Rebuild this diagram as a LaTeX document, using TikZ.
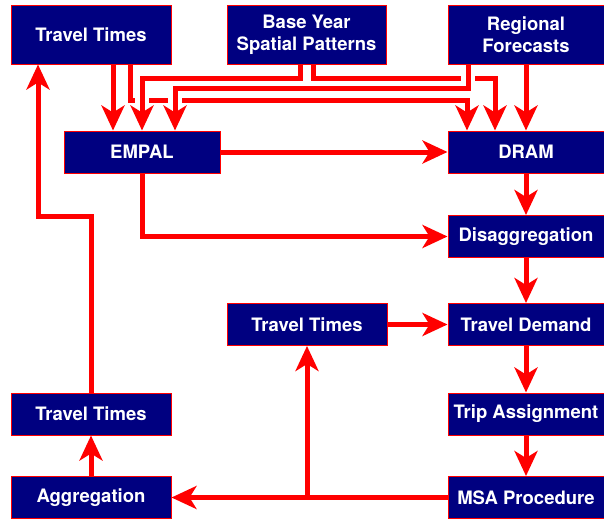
\documentclass[tikz,border=0pt]{standalone}
\usepackage{fontspec}
\setmainfont{TeX Gyre Heros}
\usetikzlibrary{arrows.meta,positioning}
\definecolor{boxblue}{RGB}{0,0,128}

\begin{document}
\begin{tikzpicture}[
        x=1pt, y=-1pt,
        every node/.style={draw=red, line width=1pt, fill=boxblue, text=white, align=center,
          inner sep=0pt, minimum width=156pt, minimum height=42pt,
          font=\bfseries\fontsize{18.5}{22}\selectfont},
        tall/.style={minimum height=58pt},
        conn/.style={draw=red, line width=5pt, -{Stealth[length=25pt,width=23pt,inset=7pt]}},
        halo/.style={preaction={draw=white, line width=14pt, -, shorten >=26pt, shorten <=2pt}}
    ]
  \useasboundingbox (0,0) rectangle (604,519);

  % Nodes
  \node[tall, minimum width=160pt] (ttop) at (91,35) {Travel Times};
  \node[tall, minimum width=159pt] (base) at (306.5,35) {Base Year\\Spatial Patterns};
  \node[tall] (reg) at (526,35) {Regional\\Forecasts};
  \node (empal) at (142,152) {EMPAL};
  \node (dram) at (526,152) {DRAM};
  \node (disagg) at (526,236.5) {Disaggregation};
  \node[minimum width=160pt] (ttmid) at (307,324.5) {Travel Times};
  \node (demand) at (526,324.5) {Travel Demand};
  \node[minimum width=160pt] (ttlow) at (91,414) {Travel Times};
  \node (trip) at (526,414) {Trip Assignment};
  \node[minimum width=160pt] (aggr) at (91,497.5) {Aggregation};
  \node (msa) at (526,497.5) {MSA Procedure};

  % Levels of the top wiring
  \coordinate (lvlA) at (0,78);
  \coordinate (lvlB) at (0,88);
  \coordinate (lvlC) at (0,100);
  \coordinate (lvlD) at (0,216);

  % Entry points on EMPAL and DRAM
  \coordinate (empalA) at ([xshift=-29pt]empal.north);
  \coordinate (empalC) at ([xshift=33pt]empal.north);
  \coordinate (dramA) at ([xshift=-59pt]dram.north);
  \coordinate (dramB) at ([xshift=-31pt]dram.north);

  % Top wiring
  \draw[conn] ([xshift=22pt]ttop.south) -- (empalA);
  \draw[conn] ([xshift=39pt]ttop.south) |- (lvlC -| dramA) -- (dramA);
  \draw[conn] ([xshift=6.5pt]base.south) |- (lvlA -| dramB) -- (dramB);
  \draw[conn, halo] ([xshift=-6.5pt]base.south) |- (lvlA -| empal.north) -- (empal.north);
  \draw[conn, halo] ([xshift=-58pt]reg.south) |- (lvlB -| empalC) -- (empalC);
  \draw[conn] (reg.south) -- (dram.north);

  % Model chain
  \draw[conn] (empal.east) -- (dram.west);
  \draw[conn] (empal.south) |- (disagg.west);
  \draw[conn] (dram.south) -- (disagg.north);
  \draw[conn] (disagg.south) -- (demand.north);
  \draw[conn] (demand.south) -- (trip.north);
  \draw[conn] (trip.south) -- (msa.north);
  \draw[conn] (ttmid.east) -- (demand.west);

  % Feedback
  \draw[conn] (msa.west) -- (aggr.east);
  \draw[conn] (msa.west -| ttmid.south) -- (ttmid.south);
  \draw[conn] (aggr.north) -- (ttlow.south);
  \draw[conn] (ttlow.north) -- (ttlow.north |- lvlD) -| ([xshift=-53pt]ttop.south);
\end{tikzpicture}
\end{document}
